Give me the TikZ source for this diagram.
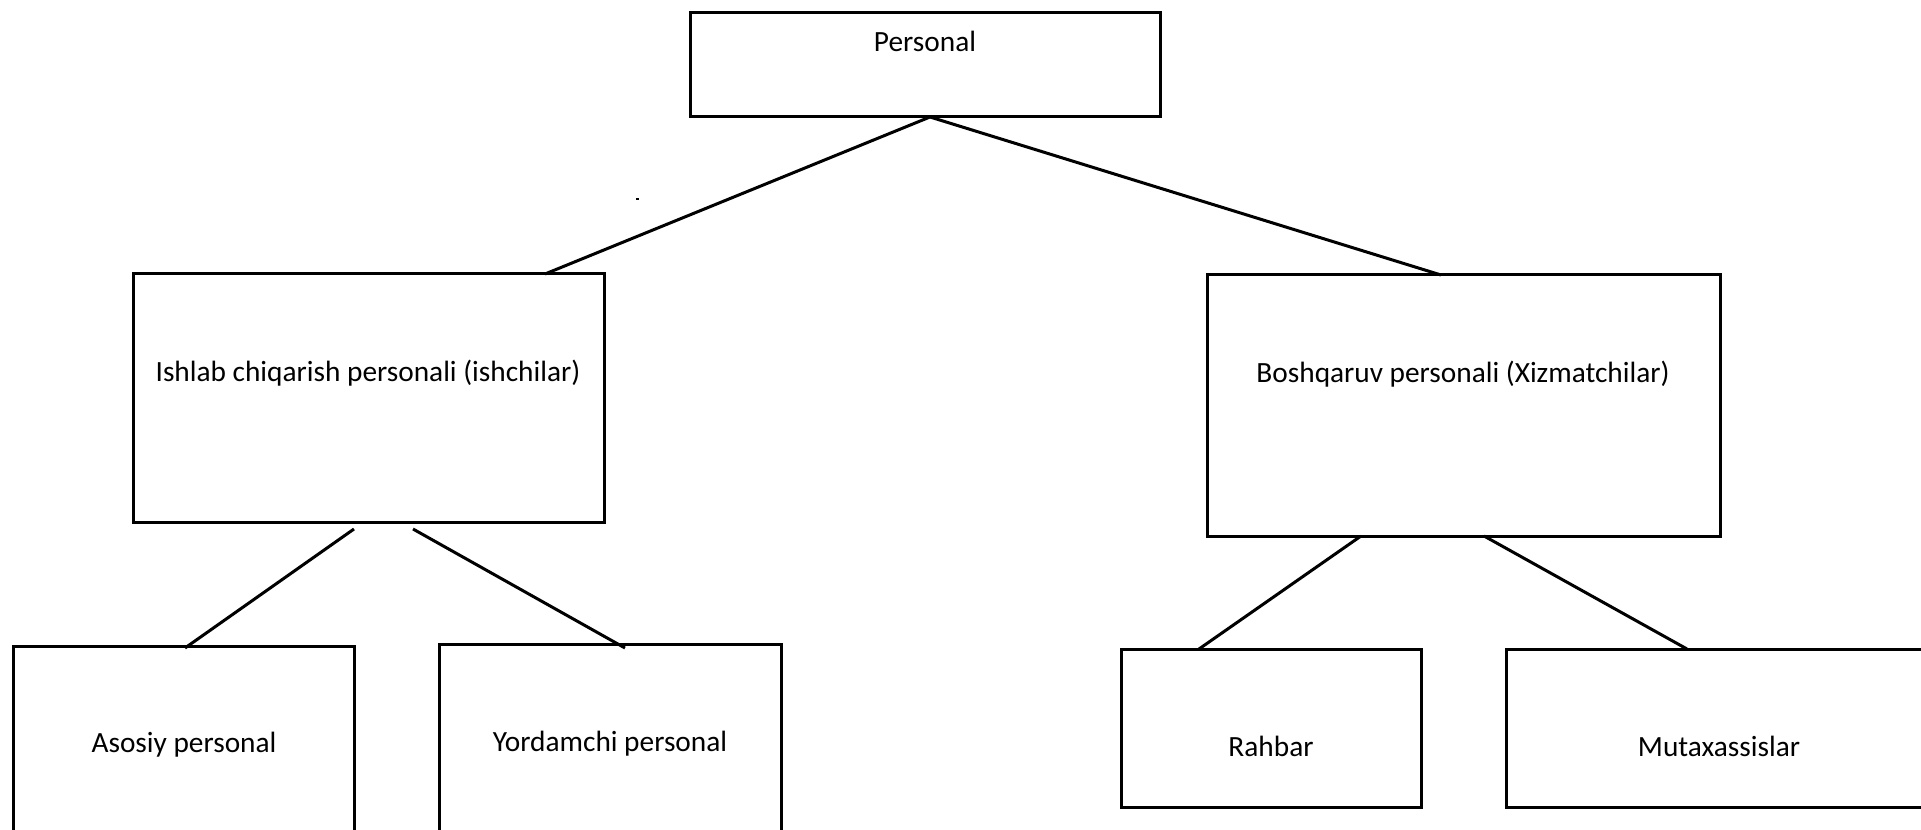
\documentclass[tikz,border=0pt]{standalone}
\usepackage{fontspec}
\setmainfont{Carlito}
\usetikzlibrary{fit}
\begin{document}
\begin{tikzpicture}[x=0.75pt,y=-0.75pt,
  box/.style={draw,line width=2.25pt,inner sep=0pt,outer sep=0pt},
  lbl/.style={font=\fontsize{22}{26}\selectfont,inner sep=0pt,anchor=base},
  conn/.style={line width=2.25pt}]
\useasboundingbox (0,0) rectangle (1921,830);
% boxes
\node[box,fit={(690,12.5)(1160,117)}] (P) {};
\node[box,fit={(133,274)(604,522)}] (I) {};
\node[box,fit={(1207,275)(1720,536)}] (B) {};
\node[box,fit={(13,646)(354,870)}] (A) {};
\node[box,fit={(439,644)(781,870)}] (Y) {};
\node[box,fit={(1121,649)(1421,807.5)}] (R) {};
\node[box,fit={(1506,649)(1960,807.5)}] (M) {};
% labels
\node[lbl] (tP) at (925,52) {Personal};
\node[lbl] (tI) at (368,382) {Ishlab chiqarish personali (ishchilar)};
\node[lbl] (tB) at (1463,383) {Boshqaruv personali (Xizmatchilar)};
\node[lbl] (tA) at (184,752) {Asosiy personal};
\node[lbl] (tY) at (610,751) {Yordamchi personal};
\node[lbl] (tR) at (1271,756) {Rahbar};
\node[lbl] (tM) at (1719,756) {Mutaxassislar};
% connector end points
\coordinate (P-b) at (930,117);
\coordinate (I-t) at (545,274);
\coordinate (B-t) at (1441,275);
\coordinate (I-b1) at (354,529);
\coordinate (I-b2) at (413,529);
\coordinate (A-t) at (185,648);
\coordinate (Y-t) at (625,648);
\coordinate (B-b1) at (1361,536);
\coordinate (B-b2) at (1484,536);
\coordinate (R-t) at (1199,649);
\coordinate (M-t) at (1687,649);
% connectors
\draw[conn] (P-b) -- (I-t);
\draw[conn] (P-b) -- (B-t);
\draw[conn] (I-b1) -- (A-t);
\draw[conn] (I-b2) -- (Y-t);
\draw[conn] (B-b1) -- (R-t);
\draw[conn] (B-b2) -- (M-t);
% stray dot
\fill (636,198) rectangle (638.5,200.5);
\end{tikzpicture}
\end{document}
